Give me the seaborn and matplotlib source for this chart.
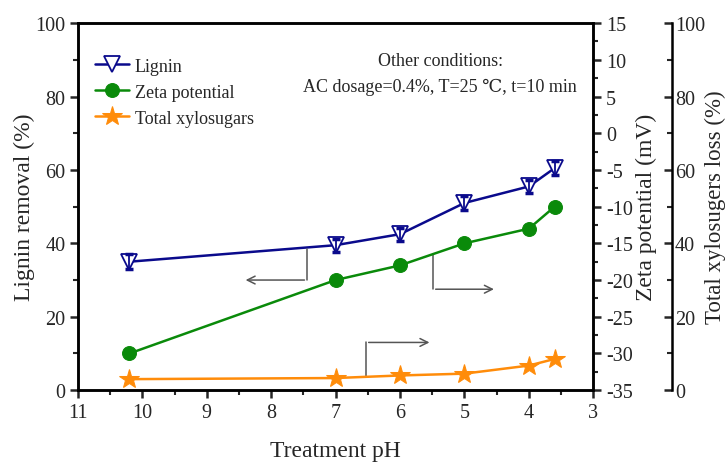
import numpy as np
import pandas as pd
import matplotlib
matplotlib.use("Agg")
import matplotlib.pyplot as plt
from matplotlib.ticker import MultipleLocator
import seaborn as sns

# values
ph = [10.2, 7, 6, 5, 4, 3.6]
lignin = [35, 39.5, 42.5, 51, 55.5, 60.5]
lignin_err = [2, 1.8, 1.8, 1.8, 1.8, 2]
zeta = [-30, -20, -18, -15, -13, -10]
xylo = [3, 3.3, 4, 4.5, 6.7, 8.5]

sns.set_style("ticks")
plt.rcParams["font.family"] = ["Liberation Serif", "DejaVu Serif"]
plt.rcParams["axes.unicode_minus"] = False

navy = "#0a0a8c"
green = "#0a8a0a"
orange = "#ff8c0a"

df = pd.DataFrame({"ph": ph, "lignin": lignin, "zeta": zeta, "xylo": xylo})

fig = plt.figure(figsize=(7.28, 4.64), dpi=100)
ax = fig.add_axes([0.107, 0.157, 0.708, 0.791])
ax2 = ax.twinx()
ax3 = ax.twinx()

sns.lineplot(data=df, x="ph", y="lignin", ax=ax, color=navy, lw=1.8,
             marker="v", markersize=11, markerfacecolor="white",
             markeredgecolor=navy, markeredgewidth=1.3, label="Lignin",
             legend=False)
ax.errorbar(ph, lignin, yerr=lignin_err, fmt="none", ecolor=navy,
            elinewidth=1.3, capsize=3, capthick=2.5)
sns.lineplot(data=df, x="ph", y="zeta", ax=ax2, color=green, lw=1.8,
             marker="o", markersize=10, markeredgecolor=green,
             label="Zeta potential", legend=False)
sns.lineplot(data=df, x="ph", y="xylo", ax=ax3, color=orange, lw=1.8,
             marker="*", markersize=15, markeredgecolor=orange,
             label="Total xylosugars", legend=False)

ax.set_xlim(11, 3)
ax.set_ylim(0, 100)
ax2.set_ylim(-35, 15)
ax3.set_ylim(0, 100)

ax.xaxis.set_major_locator(MultipleLocator(1))
ax.xaxis.set_minor_locator(MultipleLocator(0.5))
ax.yaxis.set_major_locator(MultipleLocator(20))
ax.yaxis.set_minor_locator(MultipleLocator(10))
ax2.yaxis.set_major_locator(MultipleLocator(5))
ax2.yaxis.set_minor_locator(MultipleLocator(2.5))
ax3.yaxis.set_major_locator(MultipleLocator(20))
ax3.yaxis.set_minor_locator(MultipleLocator(10))

for a in (ax, ax2, ax3):
    for s in a.spines.values():
        s.set_linewidth(1.8)
        s.set_color("black")
ax.tick_params(axis="both", which="major", direction="out", length=6,
               width=1.8, labelsize=14.5, pad=3)
ax.tick_params(axis="both", which="minor", direction="out", length=3.5,
               width=1.5)
ax.tick_params(axis="x", top=False, which="both")
ax2.tick_params(axis="y", which="major", direction="out", length=6,
                width=1.8, labelsize=14.5, pad=3)
ax2.tick_params(axis="y", which="minor", direction="out", length=3.5,
                width=1.5)
ax3.spines["right"].set_position(("axes", 1.153))
for s in ("top", "bottom", "left"):
    ax3.spines[s].set_visible(False)
ax3.tick_params(axis="y", which="major", direction="in", length=6,
                width=1.8, labelsize=14.5, pad=2)
ax3.tick_params(axis="y", which="minor", direction="in", length=3.5,
                width=1.5)

ax.set_xlabel("Treatment pH", fontsize=17, labelpad=13)
ax.set_ylabel("Lignin removal (%)", fontsize=17, labelpad=0)
ax2.set_ylabel("Zeta potential (mV)", fontsize=17, labelpad=2)
ax3.set_ylabel("Total xylosugers loss (%)", fontsize=16.5, labelpad=0)

# arrows pointing to each series' axis
arr = dict(arrowstyle="->", color="#555555", lw=1.1, mutation_scale=14)
ax.plot([7.44, 7.44], [38.5, 30], color="#555555", lw=1.1)
ax.annotate("", xy=(8.44, 30), xytext=(7.44, 30), arrowprops=arr)
ax.plot([5.49, 5.49], [37, 27.5], color="#555555", lw=1.1)
ax.annotate("", xy=(4.5, 27.5), xytext=(5.49, 27.5), arrowprops=arr)
ax.plot([6.53, 6.53], [3.8, 13], color="#555555", lw=1.1)
ax.annotate("", xy=(5.5, 13), xytext=(6.53, 13), arrowprops=arr)

ax.text(0.703, 0.898, "Other conditions:", transform=ax.transAxes,
        ha="center", va="center", fontsize=13)
ax.text(0.703, 0.827, "AC dosage=0.4%, T=25 \u2103, t=10 min",
        transform=ax.transAxes, ha="center", va="center", fontsize=13)

handles = []
labels = []
for a in (ax, ax2, ax3):
    h, l = a.get_legend_handles_labels()
    handles += h
    labels += l
leg = ax3.legend(handles, labels, loc="upper left",
                 bbox_to_anchor=(0.005, 0.945), frameon=False, fontsize=13,
                 handlelength=1.9, handletextpad=0.3, labelspacing=0.5,
                 borderaxespad=0.4)

fig.savefig("out.png", dpi=100)
